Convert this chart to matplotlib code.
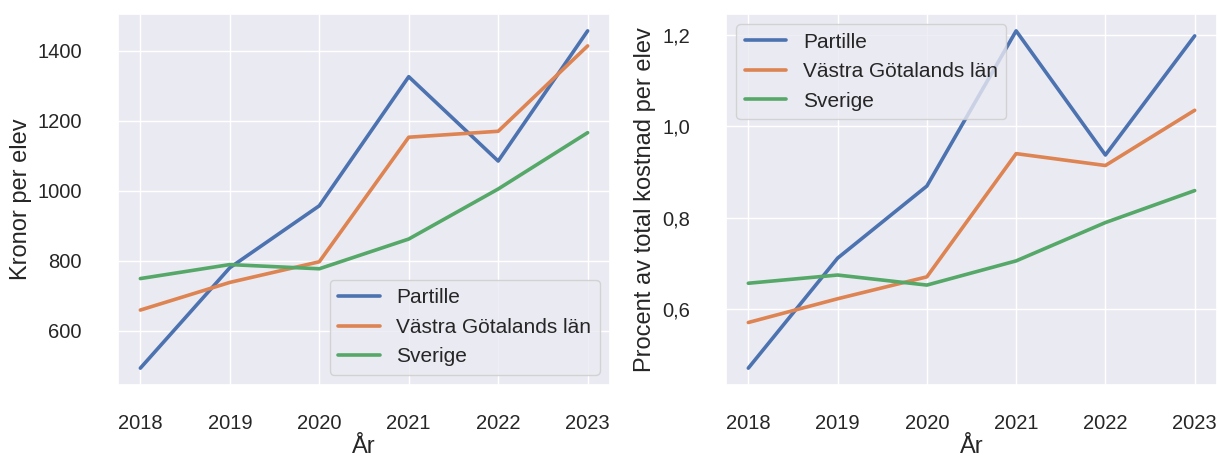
import numpy as np
import matplotlib
matplotlib.use("Agg")
import matplotlib.pyplot as plt
from matplotlib.ticker import FuncFormatter
import seaborn as sns

sns.set_theme(style="darkgrid")
plt.rcParams["font.family"] = ["Liberation Sans", "DejaVu Sans"]

# -----------------------------------------------------------------------
# DATA
# -----------------------------------------------------------------------
years = [2018, 2019, 2020, 2021, 2022, 2023]
series_names = ["Partille", "Västra Götalands län", "Sverige"]

kronor_partille = [493, 780, 957, 1326, 1085, 1457]
kronor_vgl = [659, 738, 797, 1153, 1170, 1414]
kronor_sverige = [749, 789, 777, 862, 1005, 1166]

procent_partille = [0.470, 0.711, 0.869, 1.209, 0.937, 1.198]
procent_vgl = [0.570, 0.622, 0.670, 0.940, 0.914, 1.035]
procent_sverige = [0.656, 0.674, 0.652, 0.705, 0.789, 0.859]

COLORS = ["#4C72B0", "#DD8452", "#55A868"]

fig = plt.figure(figsize=(12.19, 4.61), dpi=100)
ax1 = fig.add_axes([118 / 1219, 76 / 461, 492 / 1219, 371 / 461])
ax2 = fig.add_axes([726 / 1219, 76 / 461, 491 / 1219, 371 / 461])

# -----------------------------------------------------------------------
# LEFT: kronor per elev
# -----------------------------------------------------------------------
for vals, name, c in zip([kronor_partille, kronor_vgl, kronor_sverige],
                         series_names, COLORS):
    ax1.plot(years, vals, color=c, lw=2.6, label=name)
ax1.set_ylabel("Kronor per elev", fontsize=17)
ax1.set_xlabel("År", fontsize=17, labelpad=2)
ax1.set_yticks([600, 800, 1000, 1200, 1400])
ax1.legend(loc="lower right", fontsize=15)

# -----------------------------------------------------------------------
# RIGHT: procent av total kostnad per elev
# -----------------------------------------------------------------------
for vals, name, c in zip([procent_partille, procent_vgl, procent_sverige],
                         series_names, COLORS):
    ax2.plot(years, vals, color=c, lw=2.6, label=name)
ax2.set_ylabel("Procent av total kostnad per elev", fontsize=17)
ax2.set_xlabel("År", fontsize=17, labelpad=2)
ax2.set_yticks([0.6, 0.8, 1.0, 1.2])
ax2.yaxis.set_major_formatter(FuncFormatter(lambda v, p: f"{v:.1f}".replace(".", ",")))
ax2.legend(loc="upper left", fontsize=15)

for ax in (ax1, ax2):
    ax.set_xticks(years)
    ax.tick_params(axis="x", labelsize=14.5, pad=15)
    ax.tick_params(axis="y", labelsize=14.5, pad=20)

fig.savefig("out.png", dpi=100)
